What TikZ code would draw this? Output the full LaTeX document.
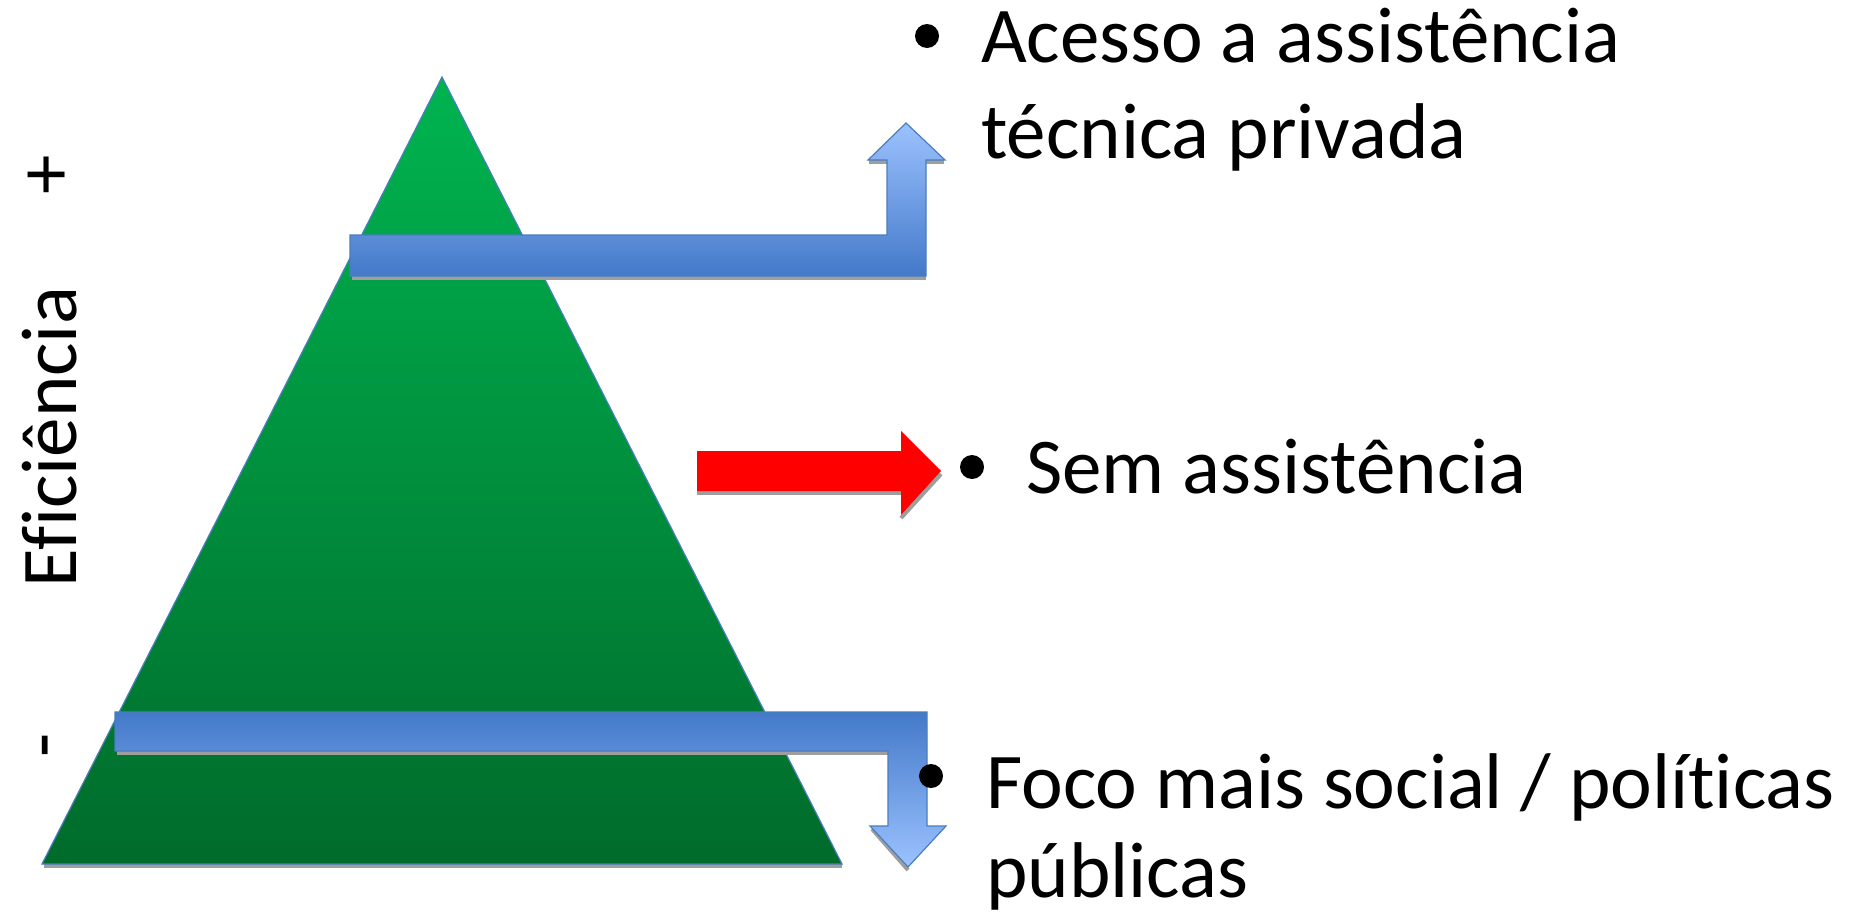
\documentclass[tikz,border=0pt]{standalone}
\usepackage{fontspec}
\setmainfont[Ligatures=NoCommon]{Carlito}
\begin{document}
\begin{tikzpicture}[x=1pt,y=-1pt,
  txt/.style={anchor=base west, inner sep=0pt, font=\fontsize{79}{95}\selectfont},
  vtxt/.style={rotate=90, inner sep=0pt, font=\fontsize{79}{95}\selectfont},
  bul/.style={circle, fill=black, inner sep=0pt, minimum size=24pt},
  shadowline/.style={draw=black!38, line width=4pt},
  bluearrow/.style={draw=blueE, line width=1.2pt}]
\definecolor{blueL}{HTML}{9CC2FF}
\definecolor{blueD}{HTML}{4379C9}
\definecolor{blueE}{HTML}{4A7EBB}
\definecolor{greenT}{HTML}{00B450}
\definecolor{greenB}{HTML}{006B2B}
\useasboundingbox (0,0) rectangle (1863,913);
\fill[white] (0,0) rectangle (1863,913);
% pyramid
\draw[shadowline] (44,866) -- (842,866);
\draw[draw=blueE, line width=1.2pt, top color=greenT, bottom color=greenB] (442,77) -- (842,864) -- (42,864) -- cycle;
% upper bent arrow
\draw[shadowline] (352,278) -- (926,278);
\draw[shadowline] (869,162) -- (887,162);
\draw[shadowline] (926,162) -- (944,162);
\draw[bluearrow, top color=blueL, bottom color=blueD]
  (350,235) -- (887,235) -- (887,160) -- (868,160) -- (906,123) -- (945,160) -- (926,160) -- (926,276) -- (350,276) -- cycle;
% red arrow
\draw[shadowline] (697,493) -- (901,493);
\draw[shadowline] (941,474) -- (901,518);
\fill[red] (697,451) -- (901,451) -- (901,431) -- (941,471) -- (901,515) -- (901,491) -- (697,491) -- cycle;
% lower bent arrow
\draw[shadowline] (117,753) -- (888,753);
\draw[shadowline] (872,829) -- (908,870);
\draw[bluearrow, top color=blueD, bottom color=blueL]
  (115,712) -- (927,712) -- (927,826) -- (946,826) -- (908,867) -- (870,826) -- (888,826) -- (888,751) -- (115,751) -- cycle;
% axis labels
\node[vtxt] (plus) at (50,175) {+};
\node[vtxt] (efic) at (50,437) {Eficiência};
\node[vtxt] (minus) at (55,745) {-};
% bullets and texts
\node[bul] (b1) at (927,36) {};
\node[txt] (t1a) at (981,62) {Acesso a assistência};
\node[txt] (t1b) at (981,158) {técnica privada};
\node[bul] (b2) at (972,467) {};
\node[txt] (t2) at (1026,493) {Sem assistência};
\node[bul] (b3) at (931,776) {};
\node[txt] (t3a) at (986,808) {Foco mais social / políticas};
\node[txt] (t3b) at (986,897) {públicas};
\end{tikzpicture}
\end{document}
